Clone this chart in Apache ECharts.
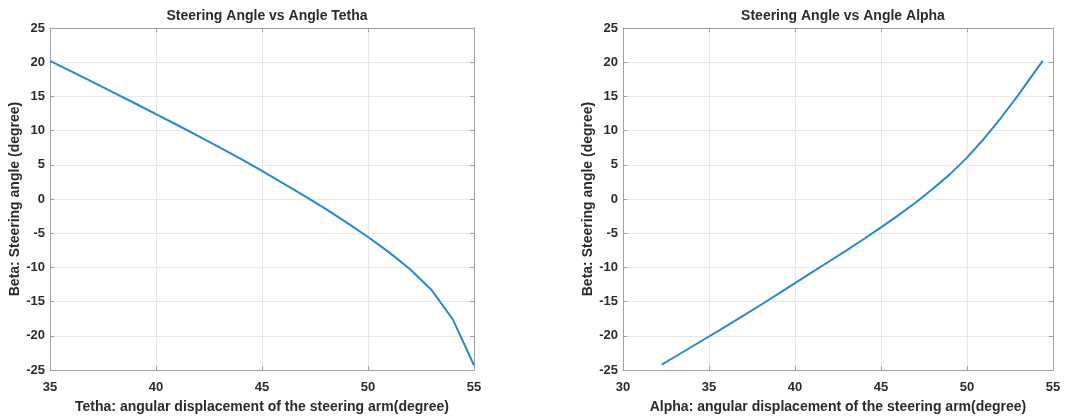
<!DOCTYPE html>
<html><head><meta charset="utf-8">
<script src="https://cdn.jsdelivr.net/npm/echarts@6/dist/echarts.min.js"></script>
<style>html,body{margin:0;padding:0;background:#fff}#c{width:1071px;height:419px}</style>
</head><body><div id="c"></div>
<script>
// Left chart: Beta vs Tetha
var tetha = [35,36,37,38,39,40,41,42,43,44,45,46,47,48,49,50,51,52,53,54,55];
var betaT = [20.2,18.65,17.11,15.56,14.0,12.42,10.82,9.2,7.55,5.85,4.1,2.3,0.45,-1.45,-3.45,-5.55,-7.8,-10.3,-13.3,-17.6,-24.3];
// Right chart: Beta vs Alpha
var alpha = [32.25,33,34,35,36,37,38,39,40,41,42,43,44,45,46,47,48,49,50,51,52,53,54,54.4];
var betaA = [-24.2,-23.1,-21.6,-20.1,-18.6,-17.05,-15.5,-13.9,-12.3,-10.7,-9.1,-7.5,-5.85,-4.15,-2.4,-0.55,1.45,3.6,6.05,8.85,11.95,15.25,18.8,20.2];
var titles = ['Steering Angle vs Angle Tetha','Steering Angle vs Angle Alpha'];
var xNames = ['Tetha: angular displacement of the steering arm(degree)','Alpha: angular displacement of the steering arm(degree)'];
var yName = 'Beta: Steering angle (degree)';

var font = 'Liberation Sans, Arial, sans-serif';
var txt = '#2b2b2b';
var grids = [
  {left:50, top:28, width:424, height:345},
  {left:623, top:28, width:430, height:344}
];
var xr = [[35,55],[30,55]];
var frame = {show:true, onZero:false, lineStyle:{color:'#a0a0a0', width:1}};
var ticks = {show:true, inside:true, length:4, lineStyle:{color:'#a0a0a0'}};
function mainX(i){
  return {type:'value', gridIndex:i, min:xr[i][0], max:xr[i][1], interval:5, position:'bottom',
    name:xNames[i], nameLocation:'middle', nameGap:30,
    nameTextStyle:{fontFamily:font, fontSize:14, fontWeight:'bold', color:txt},
    axisLine:frame, axisTick:ticks,
    axisLabel:{fontFamily:font, fontSize:13, fontWeight:'bold', color:txt, margin:11},
    splitLine:{show:true, lineStyle:{color:'#e8e8e8', width:1}}};
}
function topX(i){
  return {type:'value', gridIndex:i, min:xr[i][0], max:xr[i][1], interval:5, position:'top',
    axisLine:frame, axisTick:ticks, axisLabel:{show:false}, splitLine:{show:false}};
}
function mainY(i){
  return {type:'value', gridIndex:i, min:-25, max:25, interval:5, position:'left',
    name:yName, nameLocation:'middle', nameGap:25,
    nameTextStyle:{fontFamily:font, fontSize:14, fontWeight:'bold', color:txt},
    axisLine:frame, axisTick:ticks,
    axisLabel:{fontFamily:font, fontSize:13, fontWeight:'bold', color:txt, margin:5},
    splitLine:{show:true, lineStyle:{color:'#e8e8e8', width:1}}};
}
function rightY(i){
  return {type:'value', gridIndex:i, min:-25, max:25, interval:5, position:'right',
    axisLine:frame, axisTick:ticks, axisLabel:{show:false}, splitLine:{show:false}};
}
function pairs(xs, ys){ return xs.map(function(x,k){return [x, ys[k]];}); }

var chart = echarts.init(document.getElementById('c'), null, {renderer:'canvas'});
chart.setOption({
  backgroundColor:'#ffffff',
  animation:false,
  title:[
    {text:titles[0], left:262, top:4, textAlign:'center', textStyle:{fontFamily:font, fontSize:14, fontWeight:'bold', color:txt}},
    {text:titles[1], left:838, top:4, textAlign:'center', textStyle:{fontFamily:font, fontSize:14, fontWeight:'bold', color:txt}}
  ],
  grid:grids,
  xAxis:[mainX(0), mainX(1), topX(0), topX(1)],
  yAxis:[mainY(0), mainY(1), rightY(0), rightY(1)],
  series:[
    {type:'line', xAxisIndex:0, yAxisIndex:0, data:pairs(tetha, betaT), showSymbol:false, smooth:false,
     lineStyle:{color:'#2a88cc', width:2}},
    {type:'line', xAxisIndex:1, yAxisIndex:1, data:pairs(alpha, betaA), showSymbol:false, smooth:false,
     lineStyle:{color:'#2a88cc', width:2}}
  ]
});
</script></body></html>
